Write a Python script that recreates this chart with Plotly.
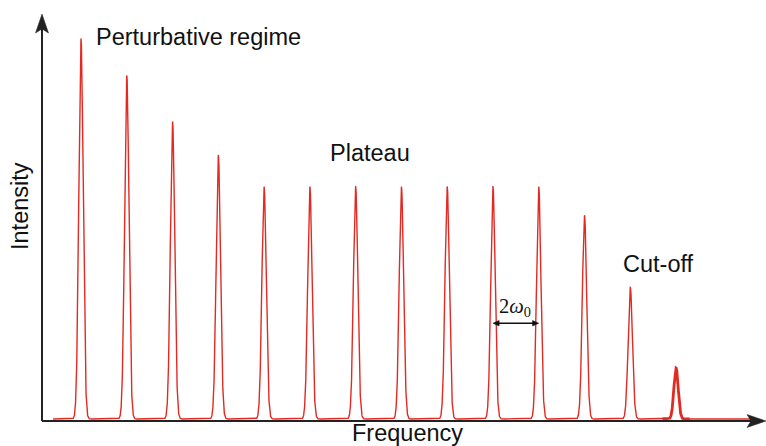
import numpy as np
import plotly.graph_objects as go

# Harmonic spectrum: odd orders of the driving frequency ω0
orders = [1, 3, 5, 7, 9, 11, 13, 15, 17, 19, 21, 23, 25, 27]
intensity = [0.940, 0.850, 0.736, 0.652, 0.575, 0.575, 0.575,
             0.575, 0.575, 0.575, 0.575, 0.504, 0.326, 0.126]
peak_sigma = 0.095          # Gaussian width of each harmonic line (units of ω0)
freq_start, freq_stop = -0.22, 30.32

W, H = 766, 446
ML, MR, MT, MB = 42, 0, 15, 26
X_RANGE = [-0.704, 30.93]
Y_RANGE = [-0.0025, 1.0]

freq = np.linspace(freq_start, freq_stop, 9000)
spectrum = np.zeros_like(freq)
for n, a in zip(orders, intensity):
    spectrum += a * np.exp(-(freq - n) ** 2 / (2 * peak_sigma ** 2))

red = "#e32a22"
ink = "#222222"
fig = go.Figure()
fig.add_trace(go.Scatter(x=freq, y=spectrum, mode="lines",
                         line=dict(color=red, width=1.4), hoverinfo="skip"))

# the cut-off harmonic is drawn with a heavier stroke
last = orders[-1]
sel = (freq > last - 0.6) & (freq < last + 0.6)
fig.add_trace(go.Scatter(x=freq[sel], y=spectrum[sel], mode="lines",
                         line=dict(color=red, width=2.8), hoverinfo="skip"))

pw, ph = W - ML - MR, H - MT - MB


def px(xp):
    return (xp - ML) / pw


def py(yp):
    return (H - MB - yp) / ph


def path(points, ref_x, ref_y):
    d = "M " + " L ".join(f"{ref_x(a)},{ref_y(b)}" for a, b in points) + " Z"
    return d


shapes = []
# axis lines
shapes.append(dict(type="line", xref="paper", yref="paper",
                   x0=px(42), x1=px(42), y0=py(421), y1=py(28),
                   line=dict(color=ink, width=2)))
shapes.append(dict(type="line", xref="paper", yref="paper",
                   x0=px(42), x1=px(752), y0=py(421), y1=py(421),
                   line=dict(color=ink, width=2)))
# arrowheads
shapes.append(dict(type="path", xref="paper", yref="paper",
                   path=path([(42, 14), (48.5, 33), (42, 29), (35.5, 33)], px, py),
                   fillcolor=ink, line=dict(color=ink, width=0.5)))
shapes.append(dict(type="path", xref="paper", yref="paper",
                   path=path([(766, 421), (747, 414.5), (751, 421), (747, 427.5)], px, py),
                   fillcolor=ink, line=dict(color=ink, width=0.5)))

# spacing marker between two neighbouring plateau harmonics
n_a, n_b = orders[9], orders[10]
y_m = 0.237
hx, hy = 0.27, 0.0068
shapes.append(dict(type="line", xref="x", yref="y", x0=n_a + 0.1, x1=n_b - 0.1,
                   y0=y_m, y1=y_m, line=dict(color="#111", width=1.3)))
shapes.append(dict(type="path", xref="x", yref="y",
                   path=f"M {n_a},{y_m} L {n_a + hx},{y_m + hy} L {n_a + hx},{y_m - hy} Z",
                   fillcolor="#111", line=dict(color="#111", width=0.5)))
shapes.append(dict(type="path", xref="x", yref="y",
                   path=f"M {n_b},{y_m} L {n_b - hx},{y_m + hy} L {n_b - hx},{y_m - hy} Z",
                   fillcolor="#111", line=dict(color="#111", width=0.5)))

font = dict(family="Liberation Sans, Arial, sans-serif", size=23.5, color="#111")
ann = [
    dict(x=px(94), y=py(37), xref="paper", yref="paper", text="Perturbative regime",
         showarrow=False, xanchor="left", yanchor="middle", font=font),
    dict(x=px(328), y=py(153), xref="paper", yref="paper", text="Plateau",
         showarrow=False, xanchor="left", yanchor="middle", font=font),
    dict(x=px(621), y=py(264), xref="paper", yref="paper", text="Cut-off",
         showarrow=False, xanchor="left", yanchor="middle", font=font),
    dict(x=px(20), y=py(206), xref="paper", yref="paper", text="Intensity",
         showarrow=False, textangle=-90, xanchor="center", yanchor="middle", font=font),
    dict(x=px(407), y=py(433), xref="paper", yref="paper", text="Frequency",
         showarrow=False, xanchor="center", yanchor="middle", font=font),
    dict(x=(n_a + n_b) / 2 - 0.05, y=0.277, xref="x", yref="y",
         text="2<i>ω</i><sub>0</sub>", showarrow=False,
         font=dict(family="Liberation Serif, serif", size=20.5, color="#111")),
]

fig.update_layout(
    width=W, height=H, margin=dict(l=ML, r=MR, t=MT, b=MB),
    paper_bgcolor="white", plot_bgcolor="white", showlegend=False,
    xaxis=dict(range=X_RANGE, visible=False, fixedrange=True),
    yaxis=dict(range=Y_RANGE, visible=False, fixedrange=True),
    annotations=ann, shapes=shapes,
)

fig.write_html("out.html")
